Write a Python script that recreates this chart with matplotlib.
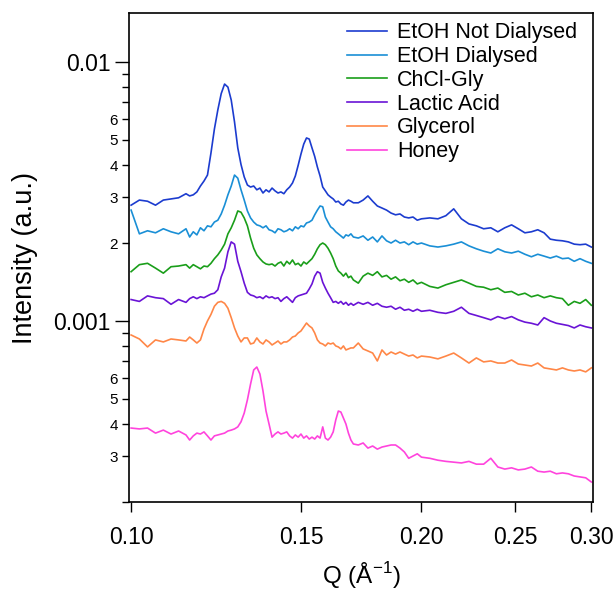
import matplotlib
matplotlib.use('Agg')
import math
import matplotlib.pyplot as plt
from matplotlib.ticker import FixedLocator, FuncFormatter, LogLocator, NullLocator

plt.rcParams['font.family'] = ['Liberation Sans', 'DejaVu Sans']

# Q grid (1/Angstrom)
q = [0.100, 0.102, 0.104, 0.106, 0.108, 0.110, 0.112, 0.114,
     0.115, 0.116, 0.117, 0.118, 0.119, 0.120, 0.121, 0.122, 0.123, 0.124,
     0.125, 0.126, 0.127, 0.128, 0.129, 0.130,
     0.131, 0.132, 0.133, 0.134, 0.135, 0.136, 0.137, 0.138, 0.139, 0.140,
     0.141, 0.142, 0.143, 0.144, 0.145, 0.146, 0.147, 0.148, 0.149, 0.150,
     0.151, 0.152, 0.153, 0.154, 0.155, 0.156, 0.157, 0.158, 0.159, 0.160,
     0.161, 0.162, 0.163, 0.164, 0.165, 0.166, 0.167, 0.168, 0.169, 0.170,
     0.172, 0.174, 0.176, 0.178, 0.180, 0.182, 0.184, 0.186, 0.188, 0.190,
     0.192, 0.194, 0.196, 0.198, 0.200,
     0.204, 0.208, 0.212, 0.216, 0.220, 0.224, 0.228, 0.232, 0.236, 0.240,
     0.244, 0.248, 0.252, 0.256, 0.260, 0.264, 0.268, 0.272, 0.276, 0.280,
     0.284, 0.288, 0.292, 0.296, 0.300]

# intensities in units of 1e-3 a.u.
etoh_nd = [2.80, 2.93, 2.90, 2.80, 2.93, 2.96, 2.99, 3.10,
           3.04, 3.07, 3.15, 3.32, 3.47, 3.66, 4.45, 5.51, 6.53, 7.55, 8.22, 8.00, 7.13, 5.87, 4.66, 4.02,
           3.60, 3.35, 3.29, 3.32, 3.21, 3.26, 3.12, 3.21, 3.15, 3.26, 3.18, 3.12, 3.15, 3.10, 3.21, 3.29, 3.41, 3.63, 3.99, 4.41,
           4.82, 5.09, 5.04, 4.66, 4.32, 3.93, 3.63, 3.29, 3.18, 3.07, 3.01, 2.96, 2.88, 2.90, 2.83, 2.80, 2.88, 2.93, 2.90, 2.86,
           2.86, 2.93, 3.04, 2.90, 2.78, 2.73, 2.68, 2.61, 2.57, 2.59, 2.52, 2.50, 2.52, 2.45, 2.48,
           2.50, 2.48, 2.55, 2.71, 2.48, 2.37, 2.33, 2.27, 2.29, 2.21, 2.29, 2.35, 2.27, 2.19, 2.21, 2.25, 2.19, 2.07, 2.05, 2.04,
           2.02, 1.98, 1.97, 1.98, 1.93]
etoh_d = [2.68, 2.17, 2.23, 2.19, 2.27, 2.21, 2.17, 2.27,
          2.11, 2.21, 2.15, 2.29, 2.23, 2.33, 2.31, 2.41, 2.45, 2.59, 2.80, 3.07, 3.32, 3.66, 3.56, 3.21,
          2.93, 2.66, 2.50, 2.41, 2.35, 2.33, 2.29, 2.33, 2.25, 2.23, 2.19, 2.27, 2.25, 2.21, 2.23, 2.27, 2.23, 2.31, 2.27, 2.33,
          2.31, 2.39, 2.41, 2.45, 2.57, 2.68, 2.78, 2.76, 2.52, 2.41, 2.31, 2.27, 2.21, 2.17, 2.13, 2.09, 2.15, 2.13, 2.17, 2.11,
          2.09, 2.13, 2.05, 2.11, 2.02, 2.13, 2.04, 2.00, 2.05, 2.00, 2.02, 1.97, 2.02, 1.98, 2.00,
          1.95, 1.93, 1.95, 1.98, 2.02, 1.95, 1.90, 1.86, 1.83, 1.90, 1.85, 1.83, 1.86, 1.81, 1.77, 1.81, 1.78, 1.75, 1.78, 1.74,
          1.75, 1.70, 1.74, 1.70, 1.67]
chcl_gly = [1.55, 1.65, 1.67, 1.60, 1.53, 1.62, 1.63, 1.65,
            1.60, 1.65, 1.62, 1.59, 1.63, 1.62, 1.67, 1.74, 1.80, 1.88, 1.98, 2.17, 2.29, 2.45, 2.66, 2.63,
            2.50, 2.33, 2.09, 1.91, 1.80, 1.74, 1.69, 1.66, 1.65, 1.66, 1.63, 1.67, 1.69, 1.63, 1.70, 1.66, 1.72, 1.65, 1.67, 1.63,
            1.69, 1.66, 1.70, 1.74, 1.81, 1.90, 1.97, 2.00, 1.97, 1.91, 1.83, 1.74, 1.63, 1.56, 1.53, 1.49, 1.53, 1.47, 1.49, 1.44,
            1.40, 1.49, 1.53, 1.50, 1.55, 1.48, 1.50, 1.45, 1.48, 1.43, 1.45, 1.41, 1.44, 1.39, 1.41,
            1.36, 1.34, 1.38, 1.41, 1.44, 1.40, 1.36, 1.35, 1.32, 1.34, 1.29, 1.30, 1.26, 1.28, 1.24, 1.26, 1.23, 1.25, 1.23, 1.22,
            1.15, 1.19, 1.17, 1.21, 1.15]
lactic = [1.21, 1.19, 1.25, 1.23, 1.22, 1.16, 1.21, 1.18,
          1.22, 1.24, 1.22, 1.24, 1.23, 1.25, 1.27, 1.28, 1.32, 1.48, 1.60, 1.85, 2.02, 1.98, 1.70, 1.55,
          1.40, 1.29, 1.26, 1.25, 1.23, 1.24, 1.22, 1.25, 1.23, 1.24, 1.22, 1.23, 1.19, 1.22, 1.24, 1.21, 1.18, 1.23, 1.25, 1.26,
          1.27, 1.28, 1.33, 1.39, 1.49, 1.55, 1.53, 1.41, 1.34, 1.28, 1.23, 1.18, 1.19, 1.17, 1.19, 1.16, 1.18, 1.15, 1.17, 1.15,
          1.18, 1.16, 1.18, 1.15, 1.17, 1.14, 1.13, 1.14, 1.11, 1.13, 1.10, 1.11, 1.09, 1.11, 1.09,
          1.10, 1.08, 1.07, 1.09, 1.13, 1.07, 1.05, 1.03, 1.01, 1.04, 1.02, 1.04, 1.01, 0.99, 0.98, 0.965, 1.03, 1.00, 0.98, 0.97,
          0.96, 0.94, 0.965, 0.95, 0.94]
glycerol = [0.883, 0.852, 0.794, 0.845, 0.830, 0.852, 0.845, 0.837,
            0.867, 0.845, 0.822, 0.845, 0.931, 1.00, 1.06, 1.14, 1.18, 1.19, 1.17, 1.12, 1.03, 0.940, 0.875, 0.830,
            0.860, 0.860, 0.815, 0.822, 0.860, 0.830, 0.815, 0.845, 0.830, 0.808, 0.822, 0.837, 0.815, 0.830, 0.830, 0.845, 0.867, 0.875, 0.899, 0.915,
            0.948, 0.982, 0.957, 0.940, 0.899, 0.845, 0.822, 0.815, 0.801, 0.822, 0.815, 0.822, 0.801, 0.794, 0.780, 0.801, 0.773, 0.780, 0.787, 0.787,
            0.822, 0.780, 0.766, 0.752, 0.701, 0.773, 0.739, 0.759, 0.745, 0.759, 0.745, 0.732, 0.739, 0.720, 0.732,
            0.726, 0.714, 0.732, 0.752, 0.720, 0.688, 0.720, 0.695, 0.701, 0.688, 0.688, 0.707, 0.682, 0.676, 0.670, 0.688, 0.659, 0.653, 0.647, 0.659,
            0.647, 0.641, 0.647, 0.636, 0.659]
honey = [0.386, 0.383, 0.386, 0.369, 0.379, 0.366, 0.376, 0.363,
         0.347, 0.360, 0.369, 0.366, 0.373, 0.360, 0.347, 0.360, 0.363, 0.366, 0.369, 0.376, 0.379, 0.383, 0.390, 0.408,
         0.441, 0.496, 0.571, 0.647, 0.664, 0.624, 0.537, 0.449, 0.400, 0.356, 0.366, 0.373, 0.366, 0.369, 0.373, 0.360, 0.353, 0.363, 0.356, 0.366,
         0.353, 0.360, 0.350, 0.356, 0.350, 0.360, 0.353, 0.390, 0.353, 0.347, 0.356, 0.373, 0.415, 0.449, 0.445, 0.422, 0.400, 0.369, 0.347, 0.335,
         0.332, 0.338, 0.323, 0.329, 0.320, 0.326, 0.329, 0.332, 0.332, 0.323, 0.312, 0.295, 0.301, 0.307, 0.298,
         0.295, 0.290, 0.287, 0.285, 0.283, 0.287, 0.280, 0.280, 0.295, 0.273, 0.268, 0.271, 0.266, 0.268, 0.273, 0.263, 0.261, 0.263, 0.257, 0.259,
         0.257, 0.252, 0.250, 0.248, 0.239]

labels = ['EtOH Not Dialysed', 'EtOH Dialysed', 'ChCl-Gly', 'Lactic Acid', 'Glycerol', 'Honey']
colors = ['#1c3ccf', '#1a8fd6', '#1a9e1a', '#6a14d6', '#ff8747', '#ff44dd']
series = [etoh_nd, etoh_d, chcl_gly, lactic, glycerol, honey]
x_ticks = [0.10, 0.15, 0.20, 0.25, 0.30]

fig = plt.figure(figsize=(6.16, 5.90), dpi=100)
ax = fig.add_axes([129 / 616, 1 - 502 / 590, 464 / 616, 489 / 590])

for vals, lab, col in zip(series, labels, colors):
    ax.plot(q, [v * 1e-3 for v in vals], color=col, lw=1.2, label=lab)

ax.set_xscale('log')
ax.set_yscale('log')
ax.set_xlim(0.0995, 0.3012)
ax.set_ylim(2.0e-4, 1.546e-2)

ax.xaxis.set_major_locator(FixedLocator(x_ticks))
ax.xaxis.set_major_formatter(FuncFormatter(lambda v, p: f'{v:.2f}'))
ax.xaxis.set_minor_locator(NullLocator())

ax.yaxis.set_major_locator(FixedLocator([1e-3, 1e-2]))
ax.yaxis.set_major_formatter(FuncFormatter(lambda v, p: f'{v:g}'))
ax.yaxis.set_minor_locator(LogLocator(base=10, subs=range(2, 10)))


def minor_label(v, p):
    m = int(round(v / 10 ** math.floor(math.log10(v))))
    if 2 <= m <= 6 and v > 2.1e-4:
        return str(m)
    return ''


ax.yaxis.set_minor_formatter(FuncFormatter(minor_label))

ax.tick_params(axis='y', which='major', direction='out', length=10, width=1, labelsize=16.5, pad=3)
ax.tick_params(axis='y', which='minor', direction='out', length=5, width=1, labelsize=11, pad=3)
ax.tick_params(axis='x', which='major', direction='out', length=7, width=1, labelsize=16.5, pad=10)
for s in ax.spines.values():
    s.set_linewidth(1.2)

ax.set_xlabel('Q (Å$^{\\mathregular{-1}}$)', fontsize=17.5, labelpad=8)
ax.set_ylabel('Intensity (a.u.)', fontsize=19.5)
ax.yaxis.set_label_coords(-0.197, 0.50)

ax.legend(loc='upper left', bbox_to_anchor=(0.470, 0.981), frameon=False, fontsize=15.5,
          handlelength=1.86, handletextpad=0.47, labelspacing=0.13, borderpad=0, borderaxespad=0)

fig.savefig('out.png', dpi=100)
